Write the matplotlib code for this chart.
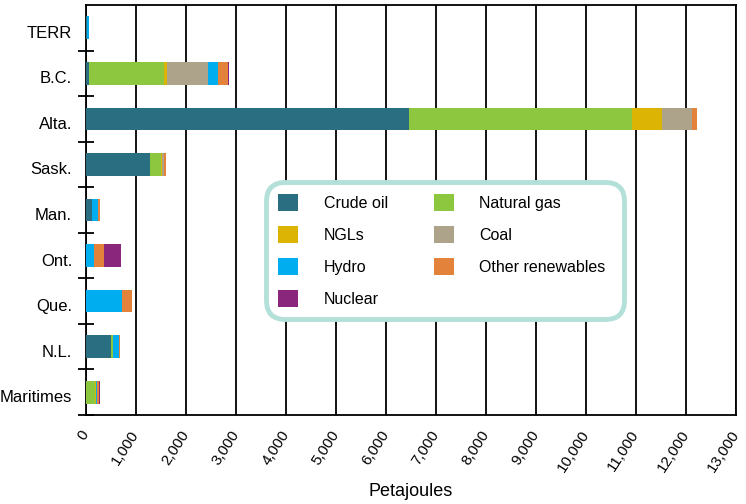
import matplotlib
matplotlib.use("Agg")
import matplotlib.pyplot as plt
import matplotlib.transforms as mtransforms
import numpy as np
import types
from matplotlib.ticker import FixedLocator, FuncFormatter

plt.rcParams['font.family'] = ['Liberation Sans', 'DejaVu Sans']

regions = ["TERR", "B.C.", "Alta.", "Sask.", "Man.", "Ont.", "Que.", "N.L.", "Maritimes"]

crude_oil = [20, 60, 6450, 1270, 120, 0, 0, 500, 0]
natural_gas = [0, 1500, 4460, 226, 0, 0, 0, 33, 170]
ngls = [0, 60, 600, 20, 0, 0, 0, 0, 20]
coal = [0, 820, 600, 47, 0, 0, 0, 0, 0]
hydro = [40, 195, 0, 0, 115, 160, 720, 127, 20]
other_renewables = [0, 205, 113, 40, 45, 200, 200, 13, 40]
nuclear = [0, 20, 0, 0, 0, 335, 0, 0, 25]

series = [
    ("Crude oil", crude_oil, "#2a6e82"),
    ("Natural gas", natural_gas, "#8dc63f"),
    ("NGLs", ngls, "#dbb404"),
    ("Coal", coal, "#ada38a"),
    ("Hydro", hydro, "#00aeef"),
    ("Other renewables", other_renewables, "#e3823a"),
    ("Nuclear", nuclear, "#8b267d"),
]

fig = plt.figure(figsize=(7.46, 5.04), dpi=100)
ax = fig.add_axes([86/746, 1 - 415/504, (736 - 86)/746, (415 - 5)/504])

y = np.arange(len(regions))
left = np.zeros(len(regions))
handles = {}
for name, vals, col in series:
    v = np.array(vals, dtype=float)
    b = ax.barh(y, v, left=left, height=0.5, color=col, label=name, zorder=3)
    handles[name] = b
    left += v

ax.set_xlim(0, 13000)
ax.set_ylim(len(regions) - 0.5, -0.5)
ax.set_xticks(np.arange(0, 13001, 1000))
ax.xaxis.set_major_formatter(FuncFormatter(lambda v, p: f"{int(v):,}"))
ax.grid(axis='x', color='black', linewidth=1.3, zorder=0)
ax.set_axisbelow(True)
for lab in ax.get_xticklabels():
    lab.set_rotation(57)
    lab.set_ha('right')
    lab.set_va('center')
    lab.set_rotation_mode('anchor')
    lab.set_fontsize(11)
ax.tick_params(axis='x', length=0, pad=12)

ax.set_yticks(y)
ax.set_yticklabels(regions, fontsize=12)
ax.tick_params(axis='y', which='major', length=0, pad=10)
offset = mtransforms.ScaledTranslation(0, -4/100, fig.dpi_scale_trans)
for lab in ax.get_yticklabels():
    lab.set_transform(lab.get_transform() + offset)
ax.yaxis.set_minor_locator(FixedLocator(np.arange(0.5, len(regions), 1.0)))
ax.tick_params(axis='y', which='minor', direction='inout', length=12, width=1.3, color='black')

for s in ax.spines.values():
    s.set_color('black')
    s.set_linewidth(1.3)

ax.set_xlabel("Petajoules", fontsize=13, labelpad=6)

order = ["Crude oil", "NGLs", "Hydro", "Nuclear", "Natural gas", "Coal", "Other renewables"]
leg = ax.legend([handles[n] for n in order], order, ncol=2, loc='upper left',
                bbox_to_anchor=((266 - 86) / 650, 1 - (182 - 5) / 410),
                borderaxespad=0,
                fontsize=11.5, frameon=True, fancybox=True, handlelength=1.25, handleheight=1.25,
                columnspacing=2.9, handletextpad=1.6, labelspacing=0.95, borderpad=0.75,
                framealpha=1)
frame = leg.get_frame()
frame.set_edgecolor('#b3e0d8')
frame.set_linewidth(3.5)
frame.set_boxstyle('round,pad=0,rounding_size=1.2')
leg.set_zorder(5)

# widen the frame on the right to match the reference box
fig.canvas.draw()
bb = leg.get_window_extent()
extra = max(0.0, (624 - 266) - bb.width)

def full_draw(self, renderer):
    renderer.open_group('legend', gid=self.get_gid())
    fontsize = renderer.points_to_pixels(self._fontsize)
    bbox = self._legend_box.get_window_extent(renderer)
    self.legendPatch.set_bounds(bbox.x0, bbox.y0, bbox.width + extra, bbox.height)
    self.legendPatch.set_mutation_scale(fontsize)
    self.legendPatch.draw(renderer)
    self._legend_box.draw(renderer)
    renderer.close_group('legend')
    self.stale = False

leg.draw = types.MethodType(full_draw, leg)

fig.savefig("out.png", dpi=100)
